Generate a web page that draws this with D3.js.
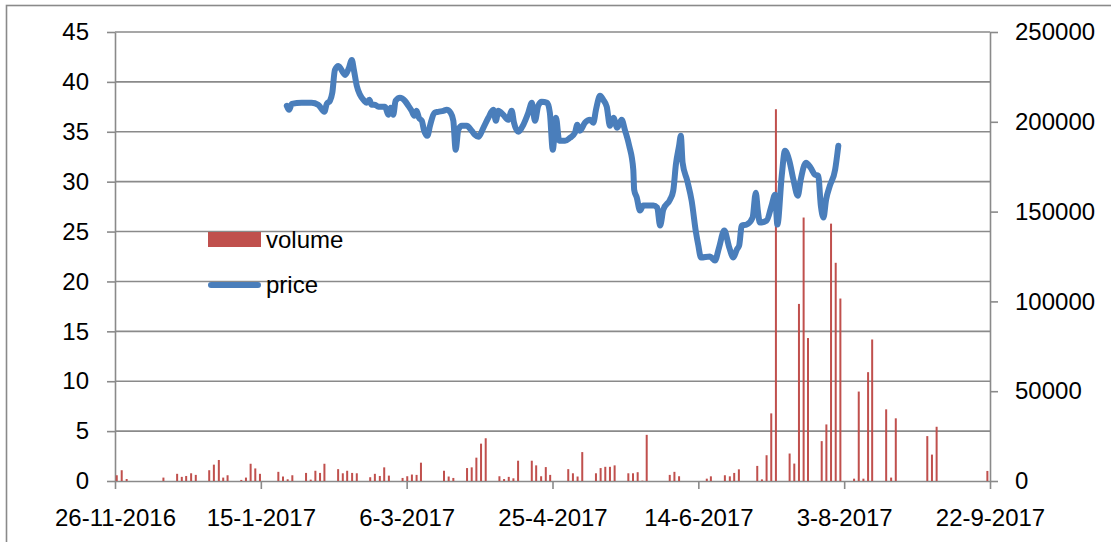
<!DOCTYPE html>
<html>
<head>
<meta charset="utf-8">
<script src="https://d3js.org/d3.v7.min.js"></script>
<style>
  html, body { margin: 0; padding: 0; background: #fff; }
  svg { display: block; font-family: "Liberation Sans", Arial, sans-serif; }
</style>
</head>
<body>
<div id="chart"></div>
<script>
// Day offsets are counted from 26-11-2016 (the first x tick)
const startDate = new Date(2016, 10, 26)
const dayTicks = [0, 50, 100, 150, 200, 250, 300]
const priceTicks = [0, 5, 10, 15, 20, 25, 30, 35, 40, 45]
const volumeTicks = [0, 50000, 100000, 150000, 200000, 250000]

// price series
const priceDay = [
  58.9, 59.7, 60.6, 64.0, 67.4, 69.7, 71.8, 72.6, 73.7, 74.5, 75.4, 76.6, 78.9, 80.2, 81.2, 81.9,
  82.9, 84.0, 85.5, 86.3, 87.2, 88.0, 89.1, 90.3, 92.6, 93.7, 94.5, 95.4, 96.2, 97.7, 99.4, 100.6,
  101.7, 102.6, 103.4, 104.2, 105.2, 105.9, 107.1, 108.0, 109.5, 110.8, 112.6, 113.7, 115.1, 116.0,
  116.8, 117.7, 118.9, 120.6, 122.3, 123.4, 124.6, 126.3, 128.0, 129.7, 130.6, 131.4, 133.1, 134.8,
  136.0, 136.8, 138.3, 140.0, 141.7, 142.9, 144.0, 145.1, 146.3, 148.2, 149.1, 150.1, 151.2, 152.3,
  154.3, 156.0, 157.7, 158.5, 159.4, 161.1, 162.9, 164.0, 164.9, 166.3, 167.4, 168.6, 169.7, 170.9,
  172.2, 173.7, 174.9, 176.3, 177.7, 178.0, 178.9, 180.0, 181.1, 184.6, 185.9, 186.9, 188.0, 190.3,
  191.4, 192.3, 193.4, 194.0, 194.6, 196.2, 197.7, 199.2, 200.0, 200.9, 204.0, 205.7, 207.1, 208.9,
  210.6, 212.0, 213.2, 214.0, 214.9, 216.6, 218.6, 219.7, 220.4, 221.1, 223.4, 225.2, 226.3, 227.1,
  228.6, 229.7, 231.2, 232.6, 234.1, 235.1, 236.9, 238.5, 240.0, 241.1, 242.0, 242.9, 243.8, 245.1,
  246.9, 248.0
]
const priceValue = [
  37.6, 37.2, 37.8, 37.9, 37.9, 37.7, 37.0, 37.8, 38.1, 38.9, 41.2, 41.6, 40.7, 41.4, 42.2, 41.2,
  39.6, 38.7, 38.1, 37.9, 38.2, 37.7, 37.7, 37.5, 37.5, 36.7, 37.4, 36.7, 38.1, 38.4, 38.1, 37.6,
  37.1, 36.6, 37.1, 36.4, 36.1, 35.2, 34.6, 35.6, 36.9, 37.0, 37.1, 37.2, 36.9, 36.1,
  33.2, 35.2, 35.6, 35.6, 35.1, 34.7, 34.5, 35.4, 36.4, 37.2, 36.1, 37.1, 36.7, 36.2,
  37.1, 35.9, 35.0, 35.7, 36.9, 37.9, 36.1, 37.6, 38.0, 37.9, 36.9, 33.2, 36.4, 34.1,
  34.1, 34.4, 34.9, 35.7, 35.1, 35.9, 36.2, 35.9, 37.2, 38.6, 38.2, 37.5, 35.6, 36.4,
  35.4, 36.2, 35.1, 33.6, 31.2, 29.2, 28.4, 27.1, 27.6, 27.6, 27.4, 25.6, 27.2, 28.2,
  29.1, 31.7, 33.6, 34.6, 31.9, 30.1, 28.1, 24.9, 23.6, 22.4, 22.5, 22.1, 23.4, 25.1,
  23.4, 22.4, 23.2, 23.6, 25.6, 25.7, 26.4, 28.9, 27.1, 25.9, 26.1, 27.7, 28.7, 25.7,
  30.6, 33.1, 32.1, 30.2, 28.6, 30.2, 31.9, 31.4, 30.7, 30.6, 27.6, 26.4, 28.2, 29.6,
  31.2, 33.6
]

// volume series
const volumeDay = [
  0.6, 2.3, 4.0, 16.6, 21.3, 22.9, 24.4, 26.1, 27.7, 32.3, 33.9, 35.6, 37.1, 38.6, 43.3, 44.9,
  46.5, 48.1, 49.7, 56.0, 57.6, 59.2, 60.8, 65.5, 67.1, 68.7, 70.3, 71.8, 76.5, 78.1, 79.6, 81.3,
  82.9, 87.5, 89.1, 90.8, 92.3, 93.9, 98.6, 100.2, 101.8, 103.4, 104.9, 112.8, 114.4, 116.0,
  120.7, 122.3, 123.9, 125.5, 127.1, 131.8, 133.4, 135.0, 136.6, 138.2, 142.9, 144.4, 146.1,
  147.7, 149.2, 155.4, 157.0, 158.6, 160.2, 164.9, 166.5, 168.1, 169.7, 171.3, 176.0, 177.6,
  179.2, 180.8, 182.3, 190.2, 191.8, 193.4, 202.9, 204.3, 209.1, 210.8, 212.3, 213.9, 220.2,
  221.8, 223.4, 225.0, 226.6, 231.3, 232.9, 234.5, 236.1, 237.6, 242.3, 243.9, 245.5, 247.1,
  248.7, 253.4, 255.0, 256.6, 258.2, 259.6, 264.4, 266.1, 267.7, 278.5, 280.1, 281.7, 299.1
]
const volumeValue = [
  3200, 6000, 1100, 1900, 4000, 2300, 2800, 4300, 3400, 6000, 9100, 11700, 1900, 3200, 600, 1900,
  9600, 7000, 4000, 5100, 2500, 950, 3200, 4500, 760, 5700, 4500, 9600, 6600, 4300, 5700, 4500,
  4300, 2100, 4000, 2800, 7600, 3000, 1700, 2650, 3600, 3400, 10200, 5700, 2500, 1700,
  7200, 7600, 13000, 20800, 23800, 2650, 1100, 2300, 1500, 11300, 11300, 8700, 2650,
  7750, 3400, 6600, 4300, 2500, 16100, 4300, 7200, 7900, 7900, 8700, 4300, 4300,
  4900, 200, 25700, 3400, 5100, 2650, 1300, 2600, 3200, 2600, 4500, 6500, 8400,
  900, 14350, 37650, 207000, 15300, 9700, 98600, 146700, 79600, 22200, 31500, 143300, 121500,
  101600, 1300, 49800, 1300, 60600, 78800, 39900, 1900, 34900, 25000, 14700, 30200, 5600
]

const width = 1111
const height = 542
const plot = { left: 115, right: 990, top: 32, bottom: 481 }
const gray = '#8a8a8a'
const fontSize = 24

function dayToDate(d) {
  return new Date(startDate.getTime() + d * 864e5)
}

const x = d3.scaleTime()
  .domain([dayToDate(0), dayToDate(300)])
  .range([plot.left, plot.right])

const yPrice = d3.scaleLinear().domain([0, 45]).range([plot.bottom, plot.top])
const yVolume = d3.scaleLinear().domain([0, 250000]).range([plot.bottom, plot.top])

const svg = d3.select('#chart')
  .append('svg')
  .attr('width', width)
  .attr('height', height)

// Outer chart frame (runs off the right and bottom edge)
svg.append('rect')
  .attr('x', 6.5)
  .attr('y', 5.5)
  .attr('width', 1300)
  .attr('height', 700)
  .attr('fill', 'none')
  .attr('stroke', gray)
  .attr('stroke-width', 1.6)

// Horizontal gridlines
svg.append('g')
  .selectAll('line')
  .data(priceTicks.slice(1))
  .join('line')
  .attr('x1', plot.left)
  .attr('x2', plot.right)
  .attr('y1', d => yPrice(d))
  .attr('y2', d => yPrice(d))
  .attr('stroke', gray)
  .attr('stroke-width', 1.6)

// Axes
function styleAxis(g) {
  g.selectAll('path.domain').attr('stroke', gray).attr('stroke-width', 1.6)
  g.selectAll('.tick line').attr('stroke', gray).attr('stroke-width', 1.6)
  g.selectAll('text')
    .attr('fill', '#000')
    .style('font-size', fontSize + 'px')
    .style('font-family', '"Liberation Sans", Arial, sans-serif')
}

svg.append('g')
  .attr('transform', `translate(${plot.left},0)`)
  .call(d3.axisLeft(yPrice).tickValues(priceTicks).tickSize(8).tickSizeOuter(0).tickPadding(18))
  .call(styleAxis)

svg.append('g')
  .attr('transform', `translate(${plot.right},0)`)
  .call(d3.axisRight(yVolume).tickValues(volumeTicks).tickSize(8).tickSizeOuter(0).tickPadding(17)
    .tickFormat(d3.format('d')))
  .call(styleAxis)

svg.append('g')
  .attr('transform', `translate(0,${plot.bottom})`)
  .call(d3.axisBottom(x).tickValues(dayTicks.map(dayToDate)).tickSize(8).tickSizeOuter(0).tickPadding(20)
    .tickFormat(d3.timeFormat('%-d-%-m-%Y')))
  .call(styleAxis)

// Volume bars
svg.append('g')
  .selectAll('rect')
  .data(volumeDay.map((d, i) => ({ day: d, value: volumeValue[i] })))
  .join('rect')
  .attr('x', d => x(dayToDate(d.day)) - 1)
  .attr('width', 2)
  .attr('y', d => yVolume(d.value))
  .attr('height', d => yVolume(0) - yVolume(d.value))
  .attr('fill', '#C0504D')

// Price line
const line = d3.line()
  .x(d => x(dayToDate(d.day)))
  .y(d => yPrice(d.value))
  .curve(d3.curveMonotoneX)

svg.append('path')
  .datum(priceDay.map((d, i) => ({ day: d, value: priceValue[i] })))
  .attr('d', line)
  .attr('fill', 'none')
  .attr('stroke', '#4A7EBB')
  .attr('stroke-width', 6)
  .attr('stroke-linejoin', 'round')
  .attr('stroke-linecap', 'round')

// Legend
const legend = svg.append('g')
legend.append('rect')
  .attr('x', 208).attr('y', 232)
  .attr('width', 53).attr('height', 15)
  .attr('fill', '#C0504D')
legend.append('text')
  .attr('x', 266).attr('y', 240).attr('dy', '0.35em')
  .style('font-size', fontSize + 'px')
  .text('volume')
legend.append('line')
  .attr('x1', 211).attr('x2', 258)
  .attr('y1', 285).attr('y2', 285)
  .attr('stroke', '#4A7EBB')
  .attr('stroke-width', 6)
  .attr('stroke-linecap', 'round')
legend.append('text')
  .attr('x', 266).attr('y', 285).attr('dy', '0.35em')
  .style('font-size', fontSize + 'px')
  .text('price')
</script>
</body>
</html>
